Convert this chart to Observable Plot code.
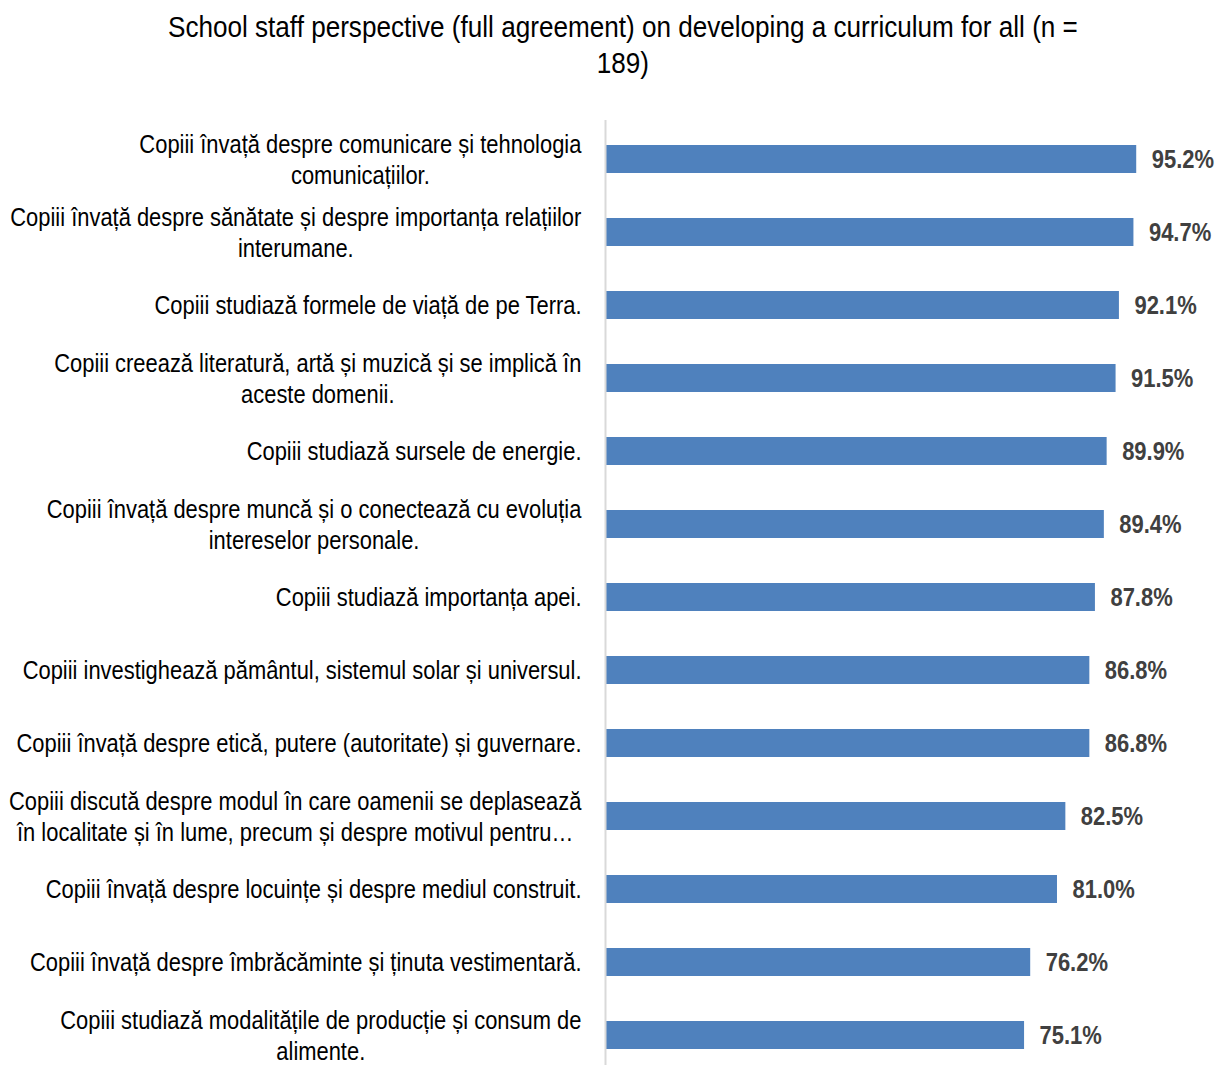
<!DOCTYPE html>
<html>
<head>
<meta charset="utf-8">
<script src="https://cdn.jsdelivr.net/npm/d3@7"></script>
<script src="https://cdn.jsdelivr.net/npm/@observablehq/plot@0.6"></script>
<style>
  body { margin: 0; background: #fff; }
  #title {
    font-family: "Liberation Sans", Arial, sans-serif;
    font-size: 30px;
    line-height: 36px;
    text-align: center;
    color: #000;
    box-sizing: border-box;
    width: 1216px;
    height: 90px;
    padding-top: 9px;
    padding-left: 30px;
  }
  #title span {
    display: inline-block;
    white-space: pre-line;
    transform: scaleX(0.87);
    transform-origin: center;
  }
</style>
</head>
<body>
<div id="title"><span></span></div>
<div id="chart"></div>
<script>
const titleText = "School staff perspective (full agreement) on developing a curriculum for all (n =\n189)";

// Statements, top to bottom, with their line breaks
const statements = [
  "Copiii învață despre comunicare și tehnologia\ncomunicațiilor.",
  "Copiii învață despre sănătate și despre importanța relațiilor\ninterumane.",
  "Copiii studiază formele de viață de pe Terra.",
  "Copiii creează literatură, artă și muzică și se implică în\naceste domenii.",
  "Copiii studiază sursele de energie.",
  "Copiii învață despre muncă și o conectează cu evoluția\nintereselor personale.",
  "Copiii studiază importanța apei.",
  "Copiii investighează pământul, sistemul solar și universul.",
  "Copiii învață despre etică, putere (autoritate) și guvernare.",
  "Copiii discută despre modul în care oamenii se deplasează\nîn localitate și în lume, precum și despre motivul pentru…",
  "Copiii învață despre locuințe și despre mediul construit.",
  "Copiii învață despre îmbrăcăminte și ținuta vestimentară.",
  "Copiii studiază modalitățile de producție și consum de\nalimente."
];

// Share of staff in full agreement (%)
const agreement = [95.2, 94.7, 92.1, 91.5, 89.9, 89.4, 87.8, 86.8, 86.8, 82.5, 81.0, 76.2, 75.1];

const FONT = '"Liberation Sans", Arial, sans-serif';
const LABEL_SIZE = 26;

document.querySelector("#title span").textContent = titleText;

const rows = statements.map((s, i) => ({statement: s, value: agreement[i]}));

// Squeeze every text of a mark horizontally about its anchor point (narrow-sans look)
function narrow(g, k) {
  for (const t of g.querySelectorAll("text")) {
    const tr = t.getAttribute("transform") || "";
    t.setAttribute("transform", `${tr} scale(${k},1)`);
  }
  return g;
}

// Labels: lines centred within a block that is right-aligned to the axis
function labelRender(index, scales, values, dims, context, next) {
  const g = next(index, scales, values, dims, context);
  const ctx = document.createElement("canvas").getContext("2d");
  ctx.font = `${LABEL_SIZE}px ${FONT}`;
  for (const t of g.querySelectorAll("text")) {
    const spans = Array.from(t.querySelectorAll("tspan"));
    if (spans.length < 2) continue;
    const w = Math.max(...spans.map(s => ctx.measureText(s.textContent).width));
    t.setAttribute("text-anchor", "middle");
    spans.forEach(s => s.setAttribute("x", -w / 2));
  }
  return narrow(g, 0.843);
}

const chart = Plot.plot({
  width: 1216,
  height: 975,
  marginLeft: 605,
  marginRight: 53,
  marginTop: 30,
  marginBottom: 0,
  style: {fontFamily: FONT, background: "#fff"},
  x: {domain: [0, 100], axis: null},
  y: {domain: statements, range: [32.5, 981.5], paddingInner: 0.62, paddingOuter: 0.31, axis: null},
  marks: [
    Plot.barX(rows, {x: "value", y: "statement", fill: "#4f81bd"}),
    Plot.ruleX([0], {stroke: "#d9d9d9", strokeWidth: 2}),
    Plot.text(rows, {
      x: 0, y: "statement", text: "statement",
      textAnchor: "end", lineAnchor: "middle", lineHeight: 1.19,
      dx: -24, dy: -1, fontSize: LABEL_SIZE, fill: "#000",
      render: labelRender
    }),
    Plot.text(rows, {
      x: "value", y: "statement", text: d => d.value.toFixed(1) + "%",
      textAnchor: "start", dx: 15, fontSize: 26, fontWeight: "bold", fill: "#404040",
      render: (i, s, v, d, c, next) => narrow(next(i, s, v, d, c), 0.845)
    })
  ]
});

document.getElementById("chart").appendChild(chart);
</script>
</body>
</html>
